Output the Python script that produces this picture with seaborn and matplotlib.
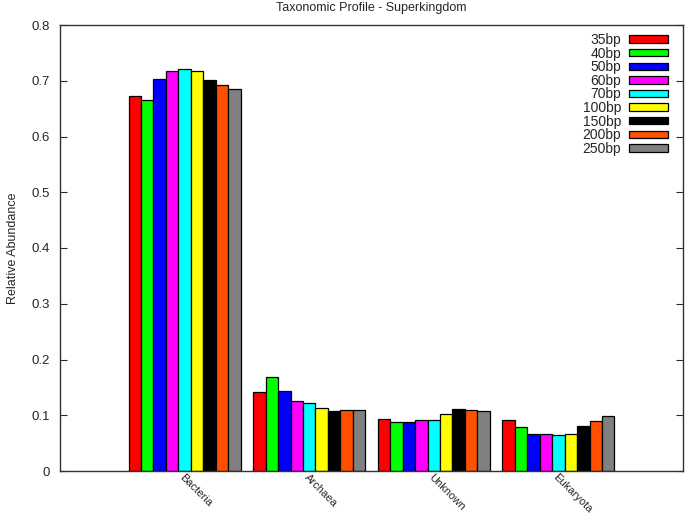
import pandas as pd
import matplotlib
matplotlib.use('Agg')
import matplotlib.pyplot as plt
import seaborn as sns

# Datos
reinos = ['Bacteria', 'Archaea', 'Unknown', 'Eukaryota']
lecturas = ['35bp', '40bp', '50bp', '60bp', '70bp', '100bp', '150bp', '200bp', '250bp']
bacteria = [0.673, 0.665, 0.703, 0.717, 0.721, 0.717, 0.701, 0.692, 0.685]
archaea = [0.142, 0.169, 0.144, 0.126, 0.122, 0.113, 0.108, 0.109, 0.109]
unknown = [0.093, 0.088, 0.088, 0.091, 0.092, 0.102, 0.111, 0.109, 0.108]
eukaryota = [0.092, 0.079, 0.066, 0.066, 0.065, 0.066, 0.081, 0.090, 0.099]
colores = ['#ff0000', '#00ff00', '#0000ff', '#ff00ff', '#00ffff',
           '#ffff00', '#000000', '#ff5000', '#808080']

filas = []
for reino, valores in zip(reinos, [bacteria, archaea, unknown, eukaryota]):
    for lec, v in zip(lecturas, valores):
        filas.append({'reino': reino, 'lectura': lec, 'abundancia': v})
df = pd.DataFrame(filas)

sns.set_style('white')
plt.rcParams['font.family'] = ['Liberation Sans', 'DejaVu Sans']

fig = plt.figure(figsize=(6.85, 5.17), dpi=100)
ax = fig.add_axes([60 / 685, 1 - 471 / 517, 623 / 685, 446 / 517])
sns.barplot(data=df, x='reino', y='abundancia', hue='lectura', order=reinos,
            hue_order=lecturas, palette=colores, width=0.9, edgecolor='black',
            linewidth=0.9, saturation=1, ax=ax)

ax.set_xlim(-1, 4)
ax.set_ylim(0, 0.8)
ax.set_yticks([0, 0.1, 0.2, 0.3, 0.4, 0.5, 0.6, 0.7, 0.8])
ax.set_yticklabels(['0', '0.1', '0.2', '0.3', '0.4', '0.5', '0.6', '0.7', '0.8'], fontsize=9.5)
ax.set_xticks(range(len(reinos)))
ax.set_xticklabels(reinos, rotation=-45, ha='left', va='top', fontsize=8,
                   rotation_mode='anchor')
ax.tick_params(axis='y', direction='in', length=5, right=True, left=True, pad=7)
ax.tick_params(axis='x', direction='in', length=0, bottom=True, top=False, pad=1)
for s in ax.spines.values():
    s.set_color('#333333')
    s.set_linewidth(1.0)
ax.set_xlabel('')
ax.set_ylabel('Relative Abundance', fontsize=9)
ax.yaxis.set_label_coords(-0.066, 0.5)
ax.set_title('Taxonomic Profile - Superkingdom', fontsize=9, pad=10)

handles, labels = ax.get_legend_handles_labels()
ax.legend(handles, labels, loc='upper right', bbox_to_anchor=(0.9936, 1.0067),
          frameon=False, markerfirst=False, fontsize=10, handlelength=2.8,
          handleheight=0.45, handletextpad=0.55, labelspacing=-0.03,
          borderaxespad=0.4)

fig.savefig('out.png', dpi=100)
plt.close()
